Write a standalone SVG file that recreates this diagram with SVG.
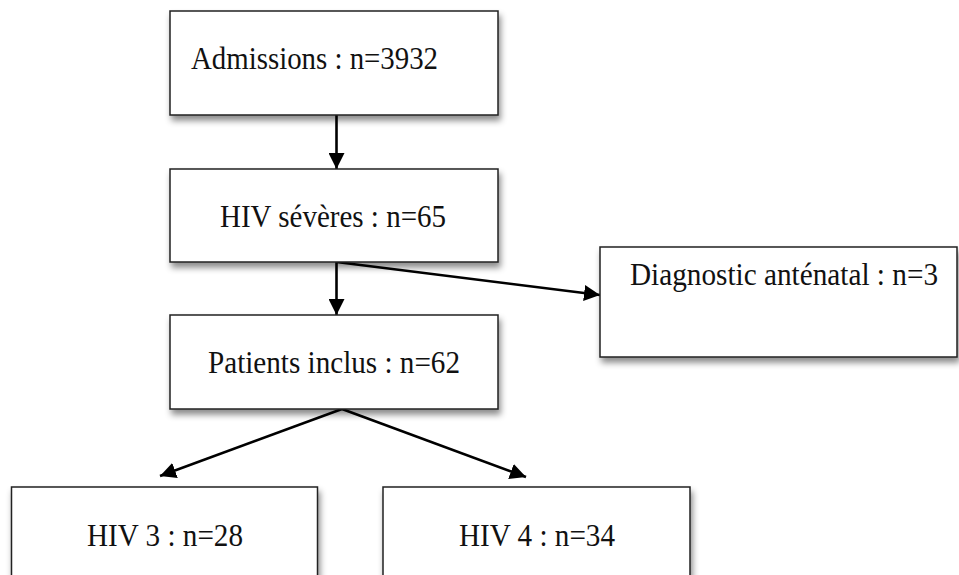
<svg xmlns="http://www.w3.org/2000/svg" width="959" height="575" viewBox="0 0 959 575">
<style>
.box{fill:#fff;stroke:#222;stroke-width:1.5;filter:url(#sh)}
.lbl{font-family:"Liberation Serif","Times New Roman",serif;font-size:31px;fill:#111}
.con{stroke:#000;stroke-width:2.6;fill:none;marker-end:url(#ah)}
</style>
<defs>
<filter id="sh" x="-10%" y="-10%" width="130%" height="140%">
<feDropShadow dx="2" dy="5" stdDeviation="3" flood-color="#000" flood-opacity="0.45"/>
</filter>
<marker id="ah" markerUnits="userSpaceOnUse" markerWidth="17" markerHeight="16" refX="16" refY="8" orient="auto">
<path d="M0,0 L16,8 L0,16 Z" fill="#000"/>
</marker>
</defs>
<g id="connectors">
<line class="con" x1="336.5" y1="115" x2="336.5" y2="169"/>
<line class="con" x1="336.5" y1="262" x2="336.5" y2="315"/>
<line class="con" x1="336.5" y1="262" x2="600" y2="295"/>
<line class="con" x1="342" y1="409" x2="160" y2="476"/>
<line class="con" x1="342" y1="409" x2="526" y2="477"/>
</g>
<g id="n1"><rect class="box" x="170" y="11" width="328" height="104"/><text class="lbl" x="191" y="69" textLength="247" lengthAdjust="spacingAndGlyphs">Admissions : n=3932</text></g>
<g id="n2"><rect class="box" x="170" y="169" width="328" height="93"/><text class="lbl" x="220" y="227" textLength="226" lengthAdjust="spacingAndGlyphs">HIV sévères : n=65</text></g>
<g id="n3"><rect class="box" x="600" y="247" width="357" height="110"/><text class="lbl" x="630" y="285" textLength="308" lengthAdjust="spacingAndGlyphs">Diagnostic anténatal : n=3</text></g>
<g id="n4"><rect class="box" x="170" y="315" width="328" height="94"/><text class="lbl" x="208" y="373" textLength="252" lengthAdjust="spacingAndGlyphs">Patients inclus : n=62</text></g>
<g id="n5"><rect class="box" x="11.5" y="487" width="306" height="100"/><text class="lbl" x="87" y="546" textLength="156" lengthAdjust="spacingAndGlyphs">HIV 3 : n=28</text></g>
<g id="n6"><rect class="box" x="383" y="487" width="307" height="100"/><text class="lbl" x="459" y="546" textLength="156" lengthAdjust="spacingAndGlyphs">HIV 4 : n=34</text></g>
</svg>
